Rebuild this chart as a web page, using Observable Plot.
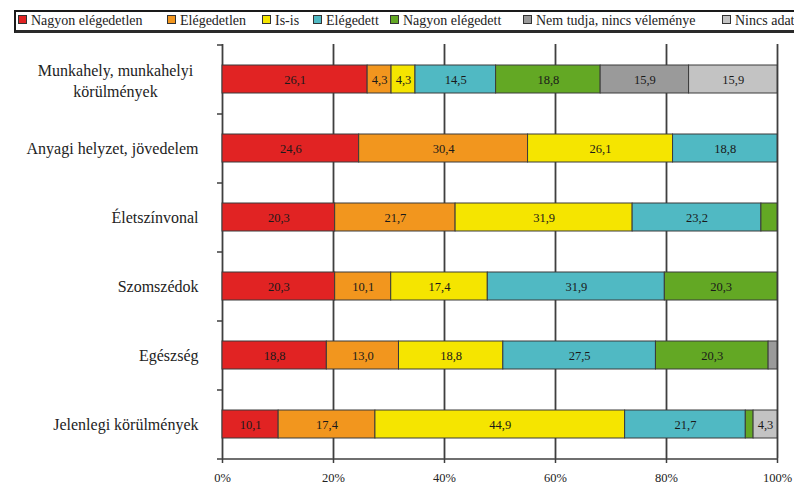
<!DOCTYPE html>
<html>
<head>
<meta charset="utf-8">
<script src="https://cdn.jsdelivr.net/npm/d3@7"></script>
<script src="https://cdn.jsdelivr.net/npm/@observablehq/plot@0.6"></script>
<style>
  html, body { margin: 0; padding: 0; background: #fff; overflow: hidden; }
  body { width: 794px; height: 486px; position: relative; font-family: 'Liberation Serif', 'Times New Roman', Times, 'DejaVu Serif', serif; }
  #legend { position: absolute; left: 14px; top: 10px; width: 800px; height: 18px;
    border-top: 2px solid #1a1a1a; border-left: 2px solid #1a1a1a; border-bottom: 3px solid #2a2a2a; background: #fff; }
  .item { position: absolute; top: 0; height: 18px; line-height: 18px; font-size: 14px; color: #222; white-space: nowrap; font-family: 'Liberation Serif', 'Times New Roman', Times, 'DejaVu Serif', serif; }
  .sw { display: inline-block; width: 7px; height: 7px; border: 1px solid #333; margin-right: 4px; vertical-align: 1px; }
  #chart { position: absolute; left: 0; top: 40px; }
  #chart svg, #chart svg text { font-family: 'Liberation Serif', 'Times New Roman', Times, 'DejaVu Serif', serif !important; }
</style>
</head>
<body>
<div id="legend"></div>
<div id="chart"></div>
<script>
const categories = [
  "Munkahely, munkahelyi\nkörülmények",
  "Anyagi helyzet, jövedelem",
  "Életszínvonal",
  "Szomszédok",
  "Egészség",
  "Jelenlegi körülmények"
];
const seriesNames = ["Nagyon elégedetlen", "Elégedetlen", "Is-is", "Elégedett", "Nagyon elégedett", "Nem tudja, nincs véleménye", "Nincs adat"];
const seriesColors = ["#e12323", "#f2961e", "#f5e500", "#50b9c3", "#63a824", "#9a9a9a", "#c3c3c3"];

const nagyonElegedetlen = [26.1, 24.6, 20.3, 20.3, 18.8, 10.1];
const elegedetlen       = [4.3, 30.4, 21.7, 10.1, 13.0, 17.4];
const isIs              = [4.3, 26.1, 31.9, 17.4, 18.8, 44.9];
const elegedett         = [14.5, 18.8, 23.2, 31.9, 27.5, 21.7];
const nagyonElegedett   = [18.8, 0, 2.9, 20.3, 20.3, 1.4];
const nemTudja          = [15.9, 0, 0, 0, 1.6, 0];
const nincsAdat         = [15.9, 0, 0, 0, 0, 4.3];
const xTicks = [0, 0.2, 0.4, 0.6, 0.8, 1];

const seriesValues = [nagyonElegedetlen, elegedetlen, isIs, elegedett, nagyonElegedett, nemTudja, nincsAdat];
const table = [];
categories.forEach((c, i) => {
  seriesNames.forEach((s, j) => {
    const v = seriesValues[j][i];
    if (v > 0) table.push({cat: c, series: s, value: v});
  });
});

// legend
const legendPos = [18, 167, 262, 313, 390, 523, 722];
const legend = document.getElementById("legend");
seriesNames.forEach((s, j) => {
  const d = document.createElement("div");
  d.className = "item";
  d.style.left = (legendPos[j] - 16) + "px";
  d.innerHTML = `<span class="sw" style="background:${seriesColors[j]}"></span>${s}`;
  legend.appendChild(d);
});

const W = 794, H = 446, mt = 4, mb = 28, ml = 222, mr = 17;
const step = (H - mt - mb) / categories.length;
const fmt = v => v.toFixed(1).replace(".", ",");
const FONT = "'Liberation Serif', 'Times New Roman', Times, 'DejaVu Serif', serif";

const chart = Plot.plot({
  width: W, height: H,
  marginTop: mt, marginBottom: mb, marginLeft: ml, marginRight: mr,
  style: {fontFamily: FONT, background: "white", overflow: "visible"},
  x: {domain: [0, 1]},
  y: {domain: categories, paddingInner: 0.6, paddingOuter: 0.3},
  color: {domain: seriesNames, range: seriesColors},
  marks: [
    Plot.ruleX(xTicks, {x: d => d, stroke: "#3f3f3f", strokeWidth: 1.8}),
    Plot.barX(table, Plot.stackX({x: "value", y: "cat", fill: "series", z: "series", offset: "normalize", order: seriesNames, stroke: "#3a3a3a", strokeWidth: 1})),
    Plot.text(table, Plot.stackX({x: "value", y: "cat", z: "series", offset: "normalize", order: seriesNames,
      text: d => d.value >= 3 ? fmt(d.value) : "", fill: "#1a1a1a", fontSize: 12.5})),
    Plot.ruleY(categories, {y: d => d, dy: -step / 2, x1: 0, x2: 0, insetLeft: -5, stroke: "#3f3f3f", strokeWidth: 1.5}),
    Plot.ruleY([categories[categories.length - 1]], {y: d => d, dy: step / 2, x1: 0, x2: 1, insetLeft: -5, stroke: "#3f3f3f", strokeWidth: 1.5}),
    Plot.axisX({ticks: xTicks, tickFormat: d3.format(".0%"), tickSize: 5, tickPadding: 10, fontSize: 12.5, stroke: "#3f3f3f", strokeWidth: 1.5, fill: "#222", label: null}),
    Plot.axisY({ticks: [], label: null}),
    Plot.text(categories.slice(1), {y: d => d, x: 0, text: d => d, textAnchor: "end", dx: -24, fontSize: 16, fill: "#222"}),
    Plot.text(categories.slice(0, 1), {y: d => d, x: 0, text: d => d, textAnchor: "middle", dx: -107, fontSize: 16, lineHeight: 1.3, fill: "#222"})
  ]
});
document.getElementById("chart").appendChild(chart);
</script>
</body>
</html>
